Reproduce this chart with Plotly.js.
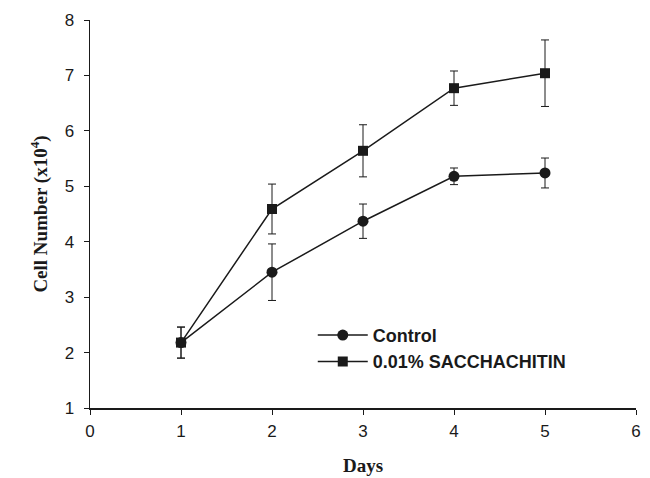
<!DOCTYPE html>
<html>
<head>
<meta charset="utf-8">
<script src="https://cdn.plot.ly/plotly-3.0.1.min.js"></script>
<style>html,body{margin:0;padding:0;background:#fff}#chart{width:650px;height:478px}</style>
</head>
<body>
<div id="chart"></div>
<script>
var days = [1, 2, 3, 4, 5];
var controlMean = [2.18, 3.45, 4.37, 5.18, 5.24];
var controlErr = [0.28, 0.51, 0.31, 0.15, 0.27];
var saccMean = [2.18, 4.59, 5.64, 6.77, 7.04];
var saccErr = [0.28, 0.45, 0.47, 0.31, 0.60];
var seriesNames = ['Control', '0.01% SACCHACHITIN'];
var xTicks = [0, 1, 2, 3, 4, 5, 6];
var yTicks = [1, 2, 3, 4, 5, 6, 7, 8];

var ink = '#1a1a1a';
var traces = [
  {
    x: days, y: controlMean, name: seriesNames[0], type: 'scatter', mode: 'lines+markers',
    line: {color: ink, width: 1.5},
    marker: {symbol: 'circle', size: 11, color: ink},
    error_y: {type: 'data', array: controlErr, visible: true, color: ink, thickness: 1, width: 4}
  },
  {
    x: days, y: saccMean, name: seriesNames[1], type: 'scatter', mode: 'lines+markers',
    line: {color: ink, width: 1.5},
    marker: {symbol: 'square', size: 10, color: ink},
    error_y: {type: 'data', array: saccErr, visible: true, color: ink, thickness: 1, width: 4}
  }
];

var layout = {
  width: 650, height: 478,
  margin: {l: 90, r: 14, t: 20, b: 70},
  paper_bgcolor: '#fff', plot_bgcolor: '#fff',
  showlegend: true,
  legend: {
    x: 0.408, y: 0.235, xanchor: 'left', yanchor: 'top',
    bgcolor: 'rgba(0,0,0,0)',
    font: {family: 'Liberation Sans, Arial, sans-serif', size: 18, color: ink, weight: 'bold'},
    tracegroupgap: 0, itemwidth: 50
  },
  xaxis: {
    range: [0, 6], tickvals: xTicks,
    showline: true, linecolor: ink, linewidth: 1.5, mirror: false,
    showgrid: false, zeroline: false,
    ticks: 'outside', ticklen: 5, tickwidth: 1, tickcolor: ink,
    ticklabelstandoff: 2,
    tickfont: {family: 'Liberation Sans, Arial, sans-serif', size: 17, color: ink},
    title: {text: 'Days', font: {family: 'Liberation Serif, Times New Roman, serif', size: 19, color: ink, weight: 'bold'}, standoff: 19}
  },
  yaxis: {
    range: [1, 8], tickvals: yTicks,
    showline: true, linecolor: ink, linewidth: 1.5, mirror: false,
    showgrid: false, zeroline: false,
    ticks: 'outside', ticklen: 5, tickwidth: 1, tickcolor: ink,
    ticklabelstandoff: 6,
    tickfont: {family: 'Liberation Sans, Arial, sans-serif', size: 17, color: ink},
    title: {text: 'Cell Number (x10<sup>4</sup>)', font: {family: 'Liberation Serif, Times New Roman, serif', size: 19, color: ink, weight: 'bold'}, standoff: 12}
  }
};

Plotly.newPlot('chart', traces, layout, {displayModeBar: false, staticPlot: true});
</script>
</body>
</html>
